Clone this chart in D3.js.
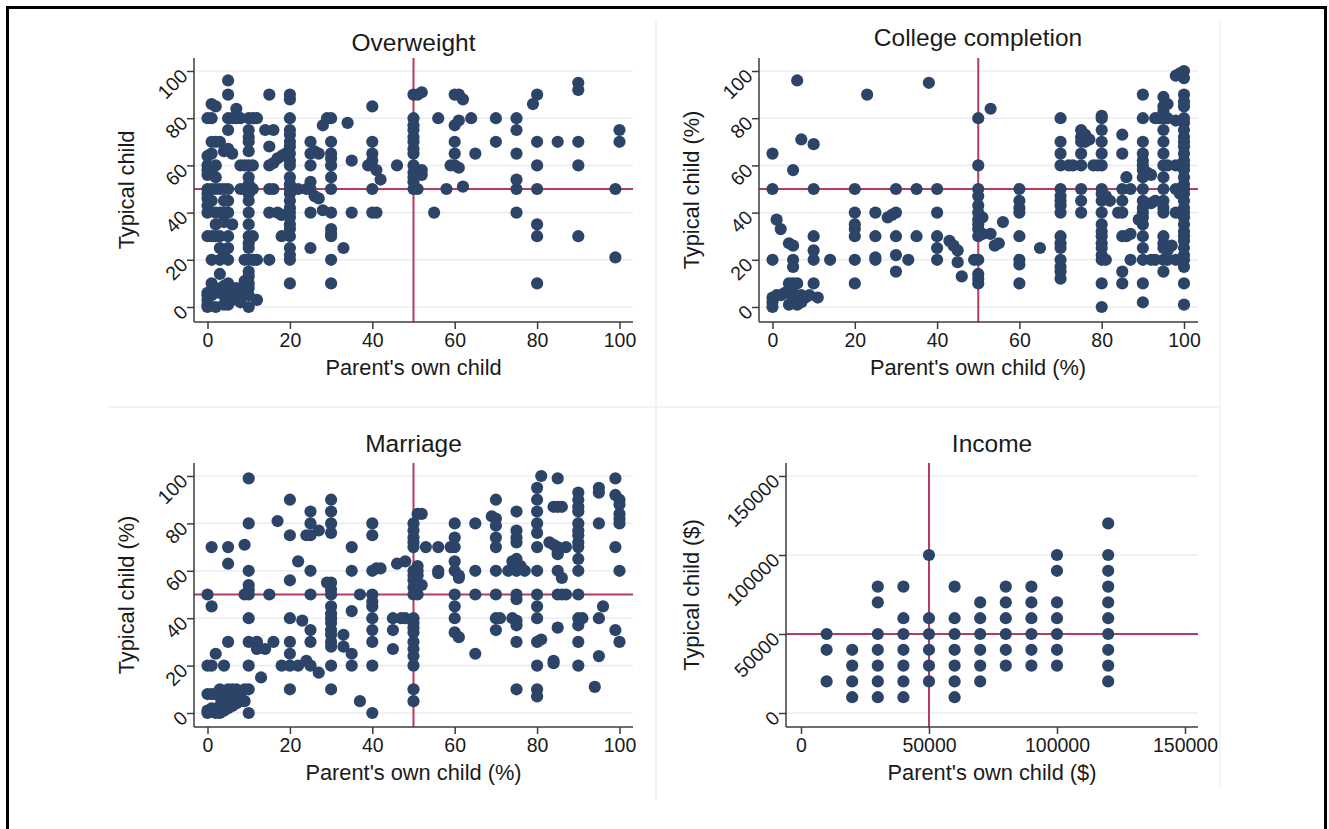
<!DOCTYPE html>
<html>
<head>
<meta charset="utf-8">
<script src="https://cdn.jsdelivr.net/npm/d3@7"></script>
<style>
  body { margin: 0; background: #fff; }
  svg { display: block; font-family: "Liberation Sans", Arial, sans-serif; }
</style>
</head>
<body>
<svg id="chart" width="1329" height="829"></svg>
<script>
// ---- data (parent's own child, typical child) ----
var overweightPts = [
  [0,80],[0,64],[0,60],[0,58],[0,56],[0,50],[0,48],[0,46],[0,43],[0,40],[0,30],[0,6],[0,5],[0,3],[0,1],[0,0],
  [1,86],[1,80],[1,70],[1,65],[1,57],[1,50],[1,45],[1,30],[1,20],[1,10],[1,5],
  [2,85],[2,70],[2,60],[2,55],[2,40],[2,35],[2,30],[2,8],[2,0],[2,50],
  [3,70],[3,50],[3,30],[3,25],[3,20],[3,14],[3,6],[3,40],
  [4,66],[4,45],[4,40],[4,36],[4,9],[4,5],[4,1],[4,50],[4,22],
  [5,96],[5,90],[5,80],[5,75],[5,67],[5,50],[5,40],[5,30],[5,25],[5,20],[5,10],[5,5],[5,1],[5,45],[5,3],
  [6,80],[6,35],[6,6],[6,3],[6,65],
  [7,84],[7,80],[7,8],[7,5],[7,4],
  [8,80],[8,60],[8,50],[8,5],[8,2],[8,7],
  [9,60],[9,50],[9,20],[9,11],[9,8],
  [10,80],[10,75],[10,72],[10,70],[10,66],[10,60],[10,55],[10,52],[10,50],[10,48],[10,45],[10,40],[10,35],
  [10,30],[10,27],[10,25],[10,20],[10,15],[10,13],[10,10],[10,8],[10,5],[10,0],
  [11,80],[11,60],[11,50],[11,30],[11,20],[12,80],[12,3],[12,20],
  [15,90],[14,75],[16,75],[15,68],[15,60],[16,61],[15,50],[16,50],[15,40],[15,20],
  [17,63],[18,64],[17,40],[18,39],[18,30],[19,65],
  [20,90],[20,88],[20,80],[20,75],[20,73],[20,70],[20,68],[20,65],[20,62],[20,60],[20,55],[20,52],[20,50],
  [20,48],[20,45],[20,42],[20,40],[20,38],[20,35],[20,33],[20,30],[20,25],[20,22],[20,20],[20,10],
  [22,50],[24,50],
  [25,70],[25,65],[25,60],[25,53],[25,50],[25,40],[25,25],[26,47],[27,65],[26,66],
  [28,77],[27,46],[28,41],
  [29,80],[30,80],[30,70],[30,65],[30,63],[30,60],[30,55],[30,50],[30,40],[30,33],[30,31],[30,30],[30,20],[30,10],
  [34,78],[35,62],[35,40],[33,25],
  [40,85],[40,70],[40,65],[40,62],[39,60],[41,58],[42,54],[40,50],[40,40],[41,40],
  [46,60],
  [50,90],[50,80],[50,77],[50,75],[50,72],[50,70],[50,67],[50,65],[50,60],[50,57],[50,55],[50,53],[50,50],
  [51,90],[52,91],[52,58],[52,56],[51,50],
  [55,40],[56,80],[58,50],
  [60,90],[61,90],[62,88],[61,79],[60,77],[60,70],[60,65],[60,60],[59,60],[61,59],[62,51],
  [64,80],[65,65],[70,80],[70,70],
  [75,80],[75,75],[75,65],[75,54],[75,50],[75,40],
  [79,86],[80,90],[80,70],[80,60],[80,50],[80,35],[80,30],[80,10],
  [85,70],
  [90,95],[90,92],[90,70],[90,60],[90,30],
  [99,50],[99,21],[100,75],[100,70]
];

var collegePts = [
  [0,65],[6,96],[5,58],[7,71],[10,69],[0,50],[10,50],[1,37],[2,33],[0,20],[4,27],[5,26],[5,20],[5,17],
  [10,30],[10,24],[10,20],[10,10],[14,20],
  [0,4],[0,0],[0,2],[1,5],[2,5],[3,6],[4,6],[4,1],[5,10],[5,6],[5,3],[6,10],[6,2],[6,1],[7,2],[8,4],[9,5],[11,4],[7,5],[4,10],
  [20,50],[20,40],[20,35],[20,33],[20,30],[20,20],[20,10],[23,90],[25,40],[25,30],[25,21],[25,20],[28,38],
  [30,50],[30,40],[30,30],[30,22],[30,15],[29,39],[33,20],[35,50],[35,30],[38,95],
  [40,50],[40,40],[40,30],[40,25],[40,20],[43,28],[44,26],[45,24],[45,19],[46,13],[49,20],
  [50,80],[50,60],[50,50],[50,47],[50,43],[50,40],[50,37],[50,35],[50,33],[50,30],[50,20],[50,14],[50,12],[50,10],[51,38],[51,31],
  [53,84],[53,31],[54,26],[55,27],[56,36],
  [60,50],[60,45],[60,42],[60,40],[60,30],[60,20],[60,18],[60,10],[65,25],
  [70,80],[70,70],[70,65],[70,60],[70,50],[70,47],[70,45],[70,43],[70,40],[70,30],[70,27],[70,25],[70,20],[70,17],[70,15],[70,12],
  [72,60],[73,60],[75,75],[75,72],[75,70],[75,65],[75,60],[75,50],[75,45],[75,40],[76,73],[77,71],[76,70],[78,60],
  [80,81],[80,80],[80,75],[80,70],[80,65],[80,60],[80,50],[80,48],[80,45],[80,40],[80,35],[80,32],[80,30],[80,27],
  [80,25],[80,22],[80,20],[80,10],[80,0],[79,60],[81,47],[82,45],[81,20],
  [85,73],[85,65],[85,50],[85,45],[85,40],[85,30],[85,15],[85,10],[84,40],[86,55],[86,30],[87,31],[87,50],[87,20],
  [90,90],[90,80],[90,70],[90,65],[90,62],[90,60],[90,58],[90,55],[90,50],[90,45],[90,42],[90,40],[90,38],[90,35],
  [90,30],[90,25],[90,20],[90,10],[90,2],[89,37],[91,57],[92,56],[92,44],[93,45],[92,20],[93,20],
  [95,89],[95,85],[95,83],[95,80],[95,75],[95,70],[95,65],[95,60],[95,55],[95,50],[95,45],[95,42],[95,40],[95,30],
  [95,27],[95,25],[95,20],[95,15],[93,80],[94,80],[96,80],[98,79],[96,60],[98,60],[99,60],[98,20],[96,20],[96,24],[97,26],[96,86],
  [100,100],[99,99],[98,98],[100,97],[100,90],[100,87],[100,85],[100,80],[100,78],[100,75],[100,72],[100,70],[100,68],
  [100,65],[100,62],[100,60],[100,58],[100,55],[100,52],[100,50],[100,48],[100,45],[100,42],[100,40],[100,38],[100,35],
  [100,32],[100,30],[100,28],[100,25],[100,22],[100,20],[100,17],[100,10],[100,1],[99,50],[99,48],[98,50],[99,40],[98,40]
];

var marriagePts = [
  [10,99],[20,90],[30,90],[30,85],[30,80],[30,76],[25,85],[25,80],[17,81],[10,80],[24,75],[25,75],[27,77],[20,75],
  [1,70],[5,70],[9,71],[5,63],[22,64],[10,60],[25,60],[20,56],[10,54],[10,52],[0,50],[9,50],[10,50],[15,50],[25,50],
  [30,55],[29,55],[30,52],[30,50],[30,45],[30,42],[30,40],[30,38],[30,35],[30,33],[30,30],[30,28],[30,20],[30,10],
  [1,45],[10,40],[20,40],[23,39],[25,35],[5,30],[10,30],[12,30],[16,30],[20,30],[25,30],[12,27],[14,27],[20,25],[2,25],
  [0,20],[1,20],[4,20],[10,20],[18,20],[20,20],[22,20],[24,22],[25,20],[27,17],[13,15],[10,10],[20,10],
  [0,8],[1,8],[3,10],[5,10],[6,10],[8,8],[0,1],[1,2],[3,3],[5,4],[6,5],[8,5],[9,5],[10,0],[0,0],[2,0],[4,1],[5,2],
  [7,4],[8,6],[6,8],[7,8],[5,7],[3,7],[4,8],[2,8],[7,10],[9,10],[3,0],[6,3],
  [33,33],[33,28],[35,70],[35,60],[35,43],[35,25],[35,20],[37,50],[37,5],
  [40,80],[40,75],[40,60],[41,61],[42,61],[40,50],[40,47],[40,45],[40,40],[40,35],[40,30],[40,20],[40,0],
  [45,40],[45,35],[45,27],[46,63],[48,64],[47,40],[48,40],
  [50,80],[50,77],[50,74],[50,72],[50,70],[50,60],[50,58],[50,56],[50,53],[50,50],[50,40],[50,38],[50,36],[50,34],
  [50,30],[50,27],[50,24],[50,20],[50,10],[50,5],[51,60],[51,58],[52,54],[51,84],[52,84],[51,50],[51,62],
  [53,70],[56,70],[59,70],[56,60],[56,59],
  [60,80],[60,74],[60,70],[60,64],[60,60],[61,58],[60,50],[60,45],[60,40],[60,34],[61,32],[61,57],
  [65,80],[65,60],[65,50],[65,25],
  [70,90],[69,83],[70,82],[70,79],[70,74],[70,70],[70,60],[70,50],[70,40],[71,40],[70,35],
  [75,85],[75,77],[75,74],[75,72],[74,64],[75,65],[76,62],[75,60],[73,60],[77,60],[75,50],[75,48],[74,40],[75,39],
  [75,37],[75,30],[75,10],
  [80,95],[80,90],[80,85],[80,80],[80,76],[80,70],[80,60],[80,50],[80,45],[80,40],[80,30],[80,20],[80,10],[80,7],[81,100],[81,31],
  [85,99],[84,87],[85,87],[86,87],[83,72],[84,71],[85,70],[85,68],[87,70],[85,67],[85,60],[86,57],[85,50],[86,50],
  [87,50],[85,36],[84,22],[84,21],
  [90,93],[90,90],[90,87],[90,85],[90,80],[90,77],[90,75],[90,72],[90,70],[90,65],[90,60],[90,50],[90,40],[90,37],
  [90,30],[90,20],[91,40],
  [95,95],[95,93],[95,80],[96,45],[95,40],[95,24],[94,11],
  [99,99],[99,92],[100,90],[100,88],[100,84],[100,82],[100,80],[99,70],[100,60],[99,35],[100,30]
];

var incomePts = [
  [10000,50000],[10000,40000],[10000,20000],
  [20000,40000],[20000,30000],[20000,20000],[20000,10000],
  [30000,80000],[30000,70000],[30000,50000],[30000,40000],[30000,30000],[30000,20000],[30000,10000],
  [40000,80000],[40000,60000],[40000,50000],[40000,40000],[40000,30000],[40000,20000],[40000,10000],
  [50000,100000],[50000,60000],[50000,50000],[50000,40000],[50000,30000],[50000,20000],
  [60000,80000],[60000,60000],[60000,50000],[60000,40000],[60000,30000],[60000,20000],[60000,10000],
  [70000,70000],[70000,60000],[70000,50000],[70000,40000],[70000,30000],[70000,20000],
  [80000,80000],[80000,70000],[80000,60000],[80000,50000],[80000,40000],[80000,30000],
  [90000,80000],[90000,70000],[90000,60000],[90000,50000],[90000,40000],[90000,30000],
  [100000,100000],[100000,90000],[100000,70000],[100000,60000],[100000,50000],[100000,40000],[100000,30000],
  [120000,120000],[120000,100000],[120000,90000],[120000,80000],[120000,70000],[120000,60000],[120000,50000],
  [120000,40000],[120000,30000],[120000,20000]
];

var pctTicks = [0, 20, 40, 60, 80, 100];
var dollarTicks = [0, 50000, 100000, 150000];
var pctRef = [50, 50];
var dollarRef = [50000, 50000];

var titles = ["Overweight", "College completion", "Marriage", "Income"];
var xTitles = ["Parent's own child", "Parent's own child (%)", "Parent's own child (%)", "Parent's own child ($)"];
var yTitles = ["Typical child", "Typical child (%)", "Typical child (%)", "Typical child ($)"];

// ---- styles ----
var dotColor = "#2c4468";
var refColor = "#b83a63";
var gridColor = "#eaeef4";
var axisColor = "#3c3c3c";
var textColor = "#1a1a1a";

var svg = d3.select("#chart");

// outer frame and faint panel borders
svg.append("rect")
  .attr("x", 7.5).attr("y", 7.5)
  .attr("width", 1318).attr("height", 900)
  .attr("fill", "none").attr("stroke", "#000").attr("stroke-width", 3);

svg.append("line").attr("x1", 656).attr("x2", 656).attr("y1", 20).attr("y2", 800)
  .attr("stroke", "#efefef").attr("stroke-width", 1.5);
svg.append("line").attr("x1", 1220).attr("x2", 1220).attr("y1", 20).attr("y2", 788)
  .attr("stroke", "#f2f2f2").attr("stroke-width", 1.5);
svg.append("line").attr("x1", 108).attr("x2", 1220).attr("y1", 407).attr("y2", 407)
  .attr("stroke", "#efefef").attr("stroke-width", 1.5);

var panels = [
  { pts: overweightPts, ticksX: pctTicks, ticksY: pctTicks, ref: pctRef, xd: [0, 100], yd: [0, 100],
    xr: [207.5, 619.5], yr: [307, 71], left: 194, right: 633, top: 58, bottom: 322,
    cx: 413.5, titleY: 51, xTitleY: 375, yTitleX: 126 },
  { pts: collegePts, ticksX: pctTicks, ticksY: pctTicks, ref: pctRef, xd: [0, 100], yd: [0, 100],
    xr: [772.5, 1184], yr: [307, 71], left: 759, right: 1198, top: 58, bottom: 322,
    cx: 978, titleY: 46, xTitleY: 375, yTitleX: 691 },
  { pts: marriagePts, ticksX: pctTicks, ticksY: pctTicks, ref: pctRef, xd: [0, 100], yd: [0, 100],
    xr: [207.5, 619.5], yr: [713, 476], left: 194, right: 633, top: 463, bottom: 727,
    cx: 413.5, titleY: 452, xTitleY: 780, yTitleX: 126 },
  { pts: incomePts, ticksX: dollarTicks, ticksY: dollarTicks, ref: dollarRef, xd: [0, 150000], yd: [0, 150000],
    xr: [801, 1185], yr: [713, 476], left: 786, right: 1198, top: 463, bottom: 727,
    cx: 992, titleY: 452, xTitleY: 780, yTitleX: 691 }
];

panels.forEach(function (p, i) {
  var g = svg.append("g").attr("class", "panel");
  var x = d3.scaleLinear().domain(p.xd).range(p.xr);
  var y = d3.scaleLinear().domain(p.yd).range(p.yr);

  // gridlines
  g.selectAll(".grid").data(p.ticksY).enter().append("line")
    .attr("class", "grid")
    .attr("x1", p.left).attr("x2", p.right)
    .attr("y1", function (d) { return y(d); })
    .attr("y2", function (d) { return y(d); })
    .attr("stroke", gridColor).attr("stroke-width", 1.6);

  // reference lines
  g.append("line")
    .attr("x1", x(p.ref[0])).attr("x2", x(p.ref[0]))
    .attr("y1", p.top).attr("y2", p.bottom)
    .attr("stroke", refColor).attr("stroke-width", 2);
  g.append("line")
    .attr("x1", p.left).attr("x2", p.right)
    .attr("y1", y(p.ref[1])).attr("y2", y(p.ref[1]))
    .attr("stroke", refColor).attr("stroke-width", 2);

  // markers
  g.selectAll(".dot").data(p.pts).enter().append("circle")
    .attr("class", "dot")
    .attr("cx", function (d) { return x(d[0]); })
    .attr("cy", function (d) { return y(d[1]); })
    .attr("r", 6.1)
    .attr("fill", dotColor);

  // axis lines
  g.append("line").attr("x1", p.left).attr("x2", p.left).attr("y1", p.top).attr("y2", p.bottom)
    .attr("stroke", axisColor).attr("stroke-width", 1.5);
  g.append("line").attr("x1", p.left).attr("x2", p.right).attr("y1", p.bottom).attr("y2", p.bottom)
    .attr("stroke", axisColor).attr("stroke-width", 1.5);

  // y axis ticks (labels at 45 degrees)
  var ya = g.append("g")
    .attr("transform", "translate(" + p.left + ",0)")
    .call(d3.axisLeft(y).tickValues(p.ticksY).tickSize(7).tickFormat(d3.format("d")));
  ya.select(".domain").remove();
  ya.selectAll(".tick line").attr("stroke", axisColor).attr("stroke-width", 1.5);
  ya.selectAll(".tick text")
    .attr("x", 0).attr("dy", "0.35em")
    .attr("transform", "translate(-10,1) rotate(-45)")
    .attr("fill", textColor)
    .style("font-size", "19.5px")
    .style("font-family", "Liberation Sans, Arial, sans-serif");

  // x axis ticks
  var xa = g.append("g")
    .attr("transform", "translate(0," + p.bottom + ")")
    .call(d3.axisBottom(x).tickValues(p.ticksX).tickSize(7).tickPadding(4).tickFormat(d3.format("d")));
  xa.select(".domain").remove();
  xa.selectAll(".tick line").attr("stroke", axisColor).attr("stroke-width", 1.5);
  xa.selectAll(".tick text")
    .attr("fill", textColor)
    .style("font-size", "19.5px")
    .style("font-family", "Liberation Sans, Arial, sans-serif");

  // titles
  g.append("text")
    .attr("x", p.cx).attr("y", p.titleY)
    .attr("text-anchor", "middle")
    .attr("fill", textColor)
    .style("font-size", "24.5px")
    .text(titles[i]);

  g.append("text")
    .attr("x", p.cx).attr("y", p.xTitleY)
    .attr("text-anchor", "middle")
    .attr("fill", textColor)
    .style("font-size", "21.8px")
    .text(xTitles[i]);

  g.append("text")
    .attr("transform", "translate(" + (p.yTitleX + 8) + "," + ((p.top + p.bottom) / 2) + ") rotate(-90)")
    .attr("text-anchor", "middle")
    .attr("fill", textColor)
    .style("font-size", "21.8px")
    .text(yTitles[i]);
});
</script>
</body>
</html>
